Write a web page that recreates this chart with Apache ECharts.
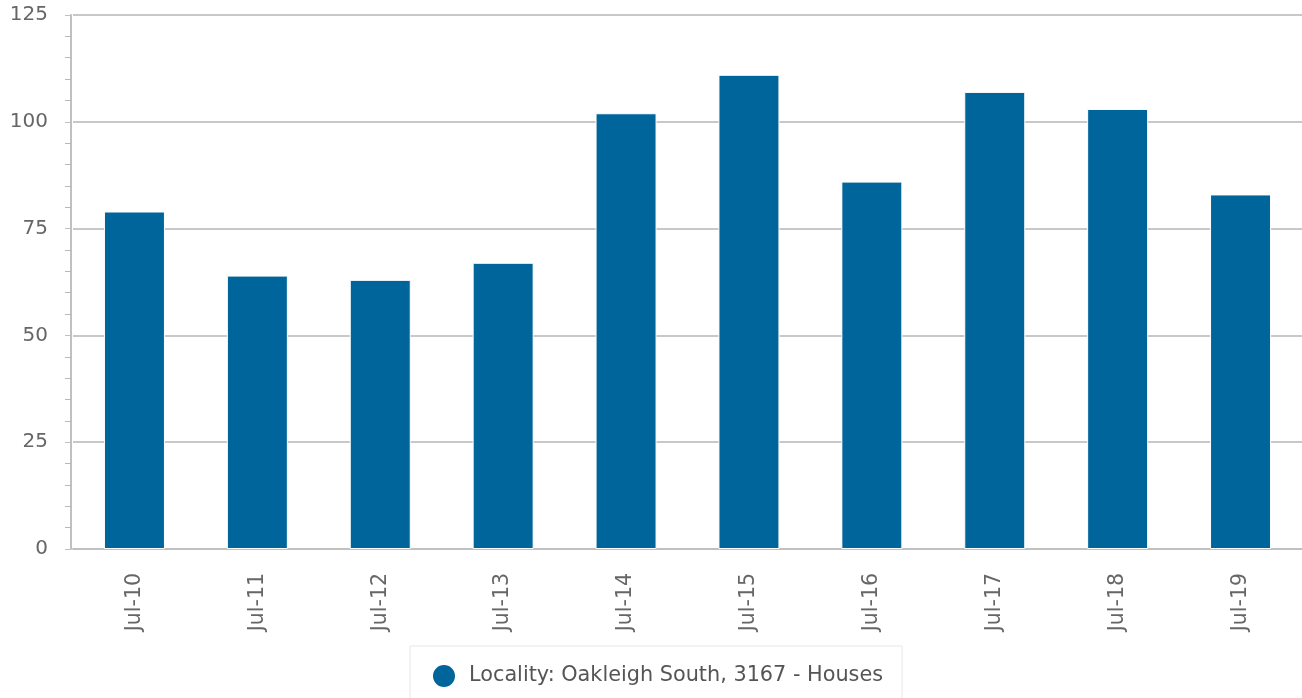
<!DOCTYPE html>
<html>
<head>
<meta charset="utf-8">
<script src="https://cdn.jsdelivr.net/npm/echarts@6/dist/echarts.min.js"></script>
<style>
html, body { margin: 0; padding: 0; background: #fff; }
#myChart { width: 1302px; height: 698px; }
</style>
</head>
<body>
<div id="myChart"></div>
<script>
var categories = ['Jul-10', 'Jul-11', 'Jul-12', 'Jul-13', 'Jul-14', 'Jul-15', 'Jul-16', 'Jul-17', 'Jul-18', 'Jul-19'];
var houses = [79, 64, 63, 67, 102, 111, 86, 107, 103, 83];
var seriesName = 'Locality: Oakleigh South, 3167 - Houses';

var font = 'DejaVu Sans';
var myChart = echarts.init(document.getElementById('myChart'));
var option = {
    animation: false,
    grid: {
        left: 73,
        right: 0,
        top: 15,
        bottom: 149
    },
    legend: {
        data: [seriesName],
        left: 410,
        top: 646,
        icon: 'circle',
        itemWidth: 24,
        itemHeight: 24,
        padding: [17, 19, 30, 21],
        borderColor: '#e6e6e6',
        borderWidth: 1,
        textStyle: {
            fontFamily: font,
            fontSize: 20.8,
            color: '#555',
            padding: [0, 0, 0, 8]
        }
    },
    xAxis: {
        type: 'category',
        data: categories,
        axisLine: {
            lineStyle: {
                color: '#c0c0c0',
                width: 2
            }
        },
        axisTick: {
            alignWithLabel: true,
            length: 10,
            lineStyle: {
                color: '#ccd6eb'
            }
        },
        axisLabel: {
            rotate: 90,
            margin: 24,
            fontFamily: font,
            fontSize: 20.5,
            color: '#666'
        }
    },
    yAxis: {
        type: 'value',
        min: 0,
        max: 125,
        interval: 25,
        offset: 2,
        axisLine: {
            show: true,
            lineStyle: {
                color: '#c0c0c0',
                width: 2
            }
        },
        axisTick: {
            show: true,
            length: 6,
            lineStyle: {
                color: '#c0c0c0'
            }
        },
        minorTick: {
            show: true,
            splitNumber: 5,
            length: 6,
            lineStyle: {
                color: '#b8b8b8'
            }
        },
        splitLine: {
            lineStyle: {
                color: '#c8c8c8',
                width: 2
            }
        },
        axisLabel: {
            margin: 23,
            padding: [4, 0, 0, 0],
            fontFamily: font,
            fontSize: 20,
            color: '#666'
        }
    },
    series: [{
        name: seriesName,
        type: 'bar',
        data: houses,
        barWidth: 61,
        itemStyle: {
            color: '#00659a',
            borderColor: '#fff',
            borderWidth: 1
        }
    }]
};
myChart.setOption(option);

window.addEventListener('resize', function () {
    myChart.resize();
});
</script>
</body>
</html>
